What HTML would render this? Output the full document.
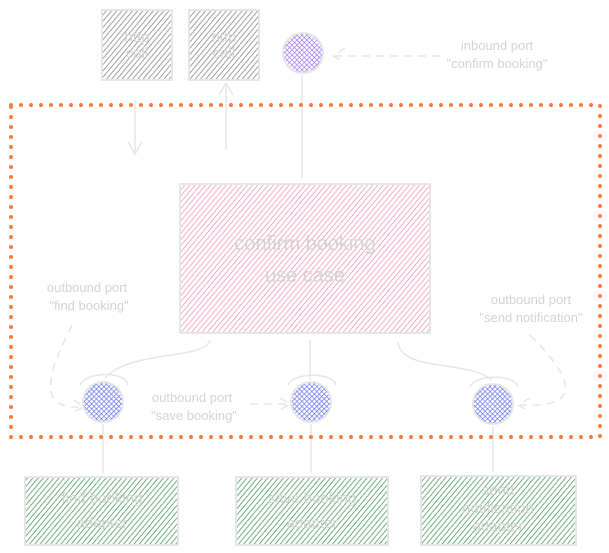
<!DOCTYPE html>
<html><head><meta charset="utf-8"><style>
html,body{margin:0;padding:0;background:#fff;width:609px;height:553px;overflow:hidden}
svg{display:block}
text{font-family:"Liberation Sans",sans-serif;fill:#d4d4d4}
</style></head><body>
<svg width="609" height="553" viewBox="0 0 609 553" xmlns="http://www.w3.org/2000/svg">
<defs>
<pattern id="hg" width="4" height="4" patternUnits="userSpaceOnUse" patternTransform="rotate(40)"><line x1="0" y1="0" x2="0" y2="4" stroke="#8a8a8a" stroke-width="1.6"/></pattern>
<pattern id="hp" width="4" height="4" patternUnits="userSpaceOnUse" patternTransform="rotate(40)"><line x1="0" y1="0" x2="0" y2="4" stroke="#f598b8" stroke-width="1.6"/></pattern>
<pattern id="hgr" width="4" height="4" patternUnits="userSpaceOnUse" patternTransform="rotate(40)"><line x1="0" y1="0" x2="0" y2="4" stroke="#4e9e5e" stroke-width="1.6"/></pattern>
<pattern id="xb" width="3.5" height="3.5" patternUnits="userSpaceOnUse" patternTransform="rotate(45)"><path d="M0 0V3.5M0 0H3.5" stroke="#5b6cf0" stroke-width="1.3"/></pattern>
<pattern id="xp" width="3.5" height="3.5" patternUnits="userSpaceOnUse" patternTransform="rotate(45)"><path d="M0 0V3.5M0 0H3.5" stroke="#9a6cf0" stroke-width="1.3"/></pattern>
</defs>
<g stroke="#e6e6e6" stroke-width="2">
<rect x="102" y="10" width="70" height="70" fill="url(#hg)"/>
<rect x="189" y="10" width="70" height="70" fill="url(#hg)"/>
<rect x="180" y="184" width="250" height="149" fill="url(#hp)"/>
<rect x="25" y="477" width="153" height="68" fill="url(#hgr)"/>
<rect x="236" y="477" width="152" height="68" fill="url(#hgr)"/>
<rect x="421" y="476" width="155" height="69" fill="url(#hgr)"/>
<circle cx="303" cy="53" r="20" fill="url(#xp)"/>
<circle cx="103" cy="402" r="20" fill="url(#xb)"/>
<circle cx="311" cy="402" r="20" fill="url(#xb)"/>
<circle cx="493" cy="404" r="20" fill="url(#xb)"/>
</g>
<g stroke="#e6e6e6" stroke-width="1.5" fill="none">
<path d="M135 100V152M128 142L135 154L142 142"/>
<path d="M226 150V85M219 95L226 83L233 95"/>
<path d="M302 75V178"/>
<path d="M103 424V473M311 424V473M493 426V472M310 340V380"/>
<path d="M210 340C205 360 130 350 105 378M398 342C400 372 470 360 492 380"/>
<path d="M80 385C85 372 125 370 128 385M288 385C293 372 333 372 336 385M470 387C475 374 515 374 518 387"/>
<path stroke-dasharray="8 6" d="M440 56H335M345 48L333 56L345 62"/>
<path stroke-dasharray="8 6" d="M72 325C55 360 30 410 80 407M74 400L84 407L74 412"/>
<path stroke-dasharray="8 6" d="M250 404H288M280 398L290 404L280 410"/>
<path stroke-dasharray="8 6" d="M530 335C555 360 600 410 520 405M530 398L518 405L530 412"/>
</g>
<rect x="11" y="105" width="589" height="332" fill="none" stroke="#fa7e3c" stroke-width="4" stroke-dasharray="0 10" stroke-linecap="round"/>
<g font-size="13" text-anchor="middle">
<text x="497" y="50">inbound port</text><text x="497" y="68">"confirm booking"</text>
<text x="87" y="292">outbound port</text><text x="89" y="310">"find booking"</text>
<text x="192" y="402">outbound port</text><text x="194" y="420">"save booking"</text>
<text x="531" y="304">outbound port</text><text x="531" y="322">"send notification"</text>
</g>
<g font-size="20" text-anchor="middle" style="fill:#f2f2f2">
<text x="305" y="250">confirm booking</text><text x="305" y="282">use case</text>
</g>
<g font-size="15" text-anchor="middle" style="fill:#f2f2f2">
<text x="102" y="503">find booking</text><text x="102" y="528">adapter</text>
<text x="312" y="503">save booking</text><text x="312" y="528">adapter</text>
<text x="498" y="495">send</text><text x="498" y="513">notification</text><text x="498" y="531">adapter</text>
<text x="137" y="42">http</text><text x="137" y="58">call</text>
<text x="224" y="42">http</text><text x="224" y="58">call</text>
</g>
</svg>
</body></html>
